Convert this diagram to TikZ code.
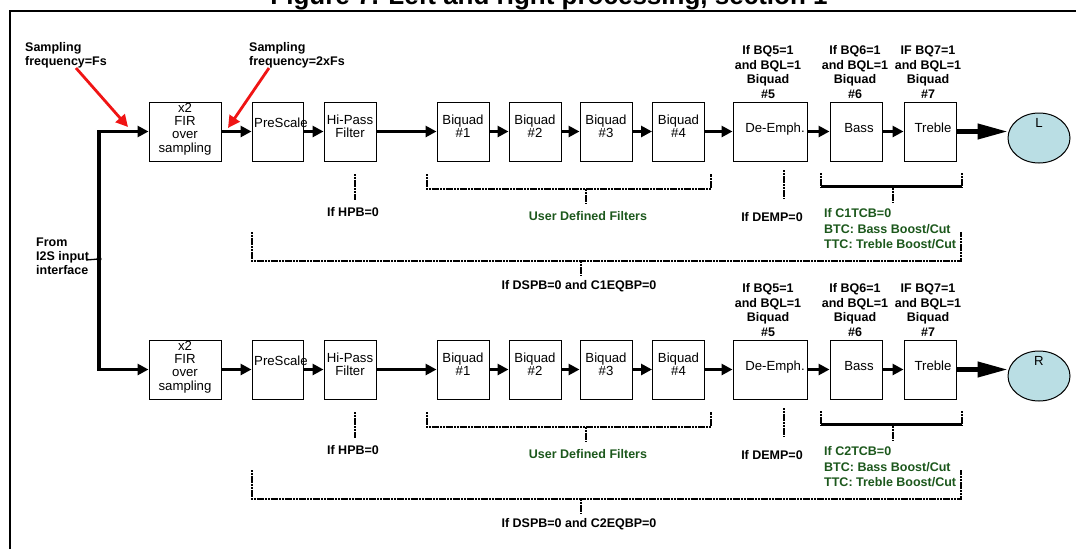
\documentclass[tikz,border=0pt]{standalone}
\usepackage{fontspec}
\setmainfont{Liberation Sans}
\usetikzlibrary{arrows.meta,shapes.geometric}
\definecolor{dgreen}{RGB}{28,88,28}
\definecolor{lblue}{RGB}{186,222,228}
\definecolor{myred}{RGB}{240,20,20}
\newcommand\procrow[3]{%
  \node[box,minimum width=72pt] (fir#1) at (185,131.5) {};
  \node[btxt] (firt#1) at (185,129) {x2\\FIR\\over\\sampling};
  \node[box,minimum width=51pt] (pre#1) at (277.5,131.5) {};
  \node[btxt,anchor=west] (pret#1) at (254,123) {PreScale};
  \node[box,minimum width=52pt] (hp#1) at (350,131.5) {};
  \node[btxt] (hpt#1) at (350,126) {Hi-Pass\\Filter};
  \node[box,minimum width=52pt] (bqa#1) at (463,131.5) {};
  \node[btxt] (bqat#1) at (463,126) {Biquad\\\#1};
  \node[box,minimum width=52pt] (bqb#1) at (535,131.5) {};
  \node[btxt] (bqbt#1) at (535,126) {Biquad\\\#2};
  \node[box,minimum width=52pt] (bqc#1) at (606,131.5) {};
  \node[btxt] (bqct#1) at (606,126) {Biquad\\\#3};
  \node[box,minimum width=52pt] (bqd#1) at (678.5,131.5) {};
  \node[btxt] (bqdt#1) at (678.5,126) {Biquad\\\#4};
  \node[box,minimum width=74pt] (de#1) at (770,131.5) {};
  \node[btxt] (det#1) at (775,129) {De-Emph.};
  \node[box,minimum width=52pt] (ba#1) at (856,131.5) {};
  \node[btxt] (bat#1) at (859,128) {Bass};
  \node[box,minimum width=52pt] (tr#1) at (930,131.5) {};
  \node[btxt] (trt#1) at (933,128) {Treble};
  \node[outc] (out#1) at (1039,138) {};
  \node[btxt] (outt#1) at (1039,123) {#3};
  \node[lbl] (qe#1) at (768,72) {If BQ5=1\\and BQL=1\\Biquad\\\#5};
  \node[lbl] (qf#1) at (855,72) {If BQ6=1\\and BQL=1\\Biquad\\\#6};
  \node[lbl] (qg#1) at (928,72) {IF BQ7=1\\and BQL=1\\Biquad\\\#7};
  \draw[flow] (fir#1.east) -- (pre#1.west);
  \draw[flow] (pre#1.east) -- (hp#1.west);
  \draw[flow] (hp#1.east) -- (bqa#1.west);
  \draw[flow] (bqa#1.east) -- (bqb#1.west);
  \draw[flow] (bqb#1.east) -- (bqc#1.west);
  \draw[flow] (bqc#1.east) -- (bqd#1.west);
  \draw[flow] (bqd#1.east) -- (de#1.west);
  \draw[flow] (de#1.east) -- (ba#1.west);
  \draw[flow] (ba#1.east) -- (tr#1.west);
  \draw[outflow] (tr#1.east) -- (tr#1.east -| out#1.west);
  \draw[dl] (355,174) -- (355,200);
  \node[lbl] (hpb#1) at (353,212) {If HPB=0};
  \draw[dl] (427,174) -- (427,189) -- (711,189) -- (711,174);
  \draw[dl] (586,189) -- (586,204);
  \node[lbl,text=dgreen] (udf#1) at (588,216) {User Defined Filters};
  \draw[dl] (784,170) -- (784,199);
  \node[lbl] (dmp#1) at (772,217) {If DEMP=0};
  \draw[dl] (821,173) -- (821,188);
  \draw[dl] (962,173) -- (962,188);
  \draw[line width=3.8pt] (821,186.5) -- (962,186.5);
  \draw[dl] (893,188) -- (893,203);
  \node[glbl,anchor=west] (tcb#1) at (824,229) {If C#2TCB=0\\BTC: Bass Boost/Cut\\TTC: Treble Boost/Cut};
  \draw[dl] (252,232) -- (252,261) -- (961,261) -- (961,232);
  \draw[dl] (581,261) -- (581,276);
  \node[lbl] (dsp#1) at (579,286) {If DSPB=0 and C#2EQBP=0};
}
\begin{document}
\begin{tikzpicture}[x=1pt,y=-1pt,
  box/.style={draw,line width=1pt,minimum height=59pt,inner sep=0pt},
  btxt/.style={font=\fontsize{13.2}{13.4}\selectfont,align=center,inner sep=0pt},
  lbl/.style={font=\bfseries\fontsize{12.5}{14.7}\selectfont,align=center,inner sep=0pt},
  glbl/.style={font=\bfseries\fontsize{12.5}{15.5}\selectfont,align=left,inner sep=0pt,text=dgreen},
  flow/.style={line width=3.2pt,-{Triangle[length=11pt,width=11pt]}},
  outflow/.style={line width=4.2pt,-{Triangle[length=30pt,width=15pt]}},
  redarr/.style={draw=myred,line width=2.8pt,-{Triangle[length=12pt,width=12pt]}},
  dl/.style={line width=1.7pt,dash pattern=on 2.2pt off 0.6pt},
  outc/.style={draw,line width=1pt,fill=lblue,ellipse,minimum width=62pt,minimum height=50pt,inner sep=0pt}
]
\useasboundingbox (0,0) rectangle (1076,549);
\fill[white] (0,0) rectangle (1076,549);
\draw[line width=2pt] (10,549) -- (10,11) -- (1076,11);
\node[font=\bfseries\fontsize{26}{30}\selectfont,anchor=base,inner sep=0pt] (title) at (549,4) {Figure 7. Left and right processing, section 1};
\node[lbl,align=left,anchor=west,font=\bfseries\fontsize{12.5}{14}\selectfont] (fsa) at (25,55) {Sampling\\frequency=Fs};
\node[lbl,align=left,anchor=west,font=\bfseries\fontsize{12.5}{14}\selectfont] (fsb) at (249,55) {Sampling\\frequency=2xFs};
\procrow{L}{1}{L}
\begin{scope}[yshift=-238pt]
\procrow{R}{2}{R}
\end{scope}
\coordinate (ras) at (76,68);
\coordinate (rae) at (128,127);
\coordinate (rbs) at (269,68);
\coordinate (rbe) at (228,128);
\draw[redarr] (ras) -- (rae);
\draw[redarr] (rbs) -- (rbe);
\node[lbl,align=left,anchor=west,font=\bfseries\fontsize{12.5}{14}\selectfont] (from) at (36,256) {From\\I2S input\\interface};
\coordinate (jn) at (99,259);
\coordinate (inend) at (86,260);
\draw[flow] (jn) |- (firL.west);
\draw[flow] (jn) |- (firR.west);
\draw[line width=1.3pt] (inend) -- (jn);
\fill (jn) circle (2.6);
\end{tikzpicture}
\end{document}
